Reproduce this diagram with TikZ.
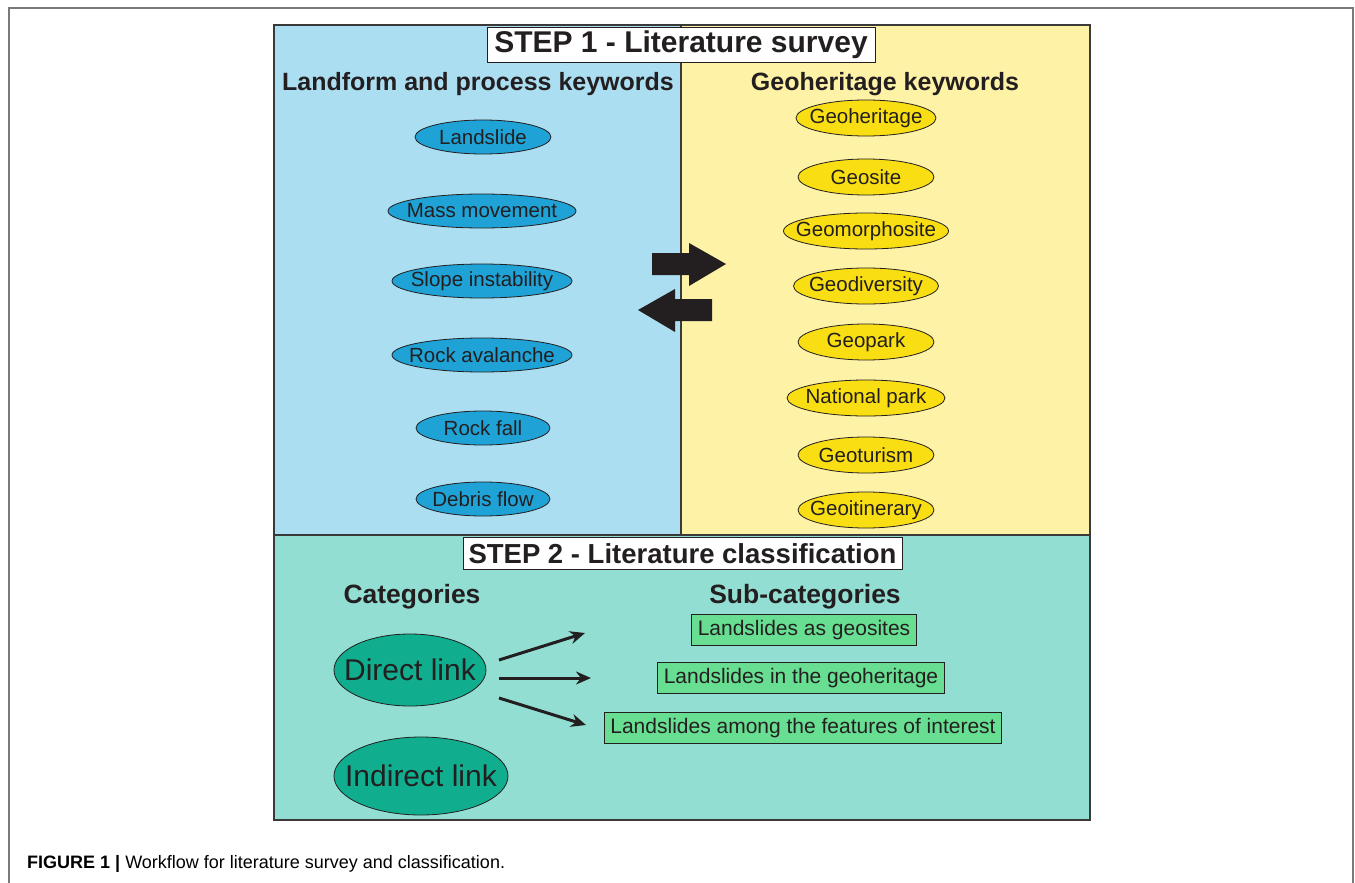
\documentclass[tikz,border=0pt]{standalone}
\usepackage{fontspec}
\setmainfont{Liberation Sans}
\usepackage{xcolor}
\usetikzlibrary{shapes.geometric, arrows.meta, positioning}

\definecolor{inkdark}{HTML}{231F20}
\definecolor{framegray}{HTML}{3A3A3A}
\definecolor{pagegray}{HTML}{7A7A7A}
\definecolor{bluepanel}{HTML}{ABDEF1}
\definecolor{bluekw}{HTML}{1FA2D6}
\definecolor{yellowpanel}{HTML}{FEF2A7}
\definecolor{yellowkw}{HTML}{F8DE13}
\definecolor{tealpanel}{HTML}{93DED3}
\definecolor{tealkw}{HTML}{10AE8E}
\definecolor{greenkw}{HTML}{68DE92}

% texte sans largeur, l'ellipse garde sa taille minimale
\newcommand{\kwtext}[1]{\makebox[0pt]{#1}}

\begin{document}
\begin{tikzpicture}[x=1pt, y=-1pt, auto]
% Styles
    \tikzstyle{panel} = [draw=framegray, line width=1.1pt]
    \tikzstyle{pagerule} = [draw=pagegray, line width=1.3pt]
    \tikzstyle{steptitle} = [rectangle, draw=inkdark, fill=white, line width=0.9pt, inner sep=0pt, text=inkdark, font=\fontsize{28.5}{30}\selectfont\bfseries]
    \tikzstyle{heading} = [text=inkdark, font=\fontsize{25}{27}\selectfont\bfseries]
    \tikzstyle{landform} = [ellipse, draw=inkdark, fill=bluekw, line width=0.8pt, inner sep=0pt, minimum width=134pt, minimum height=34pt, text=inkdark, font=\fontsize{20.5}{22}\selectfont]
    \tikzstyle{geokw} = [ellipse, draw=inkdark, fill=yellowkw, line width=0.8pt, inner sep=0pt, minimum width=136pt, minimum height=36pt, text=inkdark, font=\fontsize{20.5}{22}\selectfont]
    \tikzstyle{linkcat} = [ellipse, draw=inkdark, fill=tealkw, line width=0.8pt, inner sep=0pt, text=inkdark, font=\fontsize{30}{32}\selectfont]
    \tikzstyle{subcat} = [rectangle, draw=inkdark, fill=greenkw, line width=0.9pt, inner xsep=6pt, inner ysep=0pt, minimum height=31pt, text=inkdark, font=\fontsize{21}{23}\selectfont]
    \tikzstyle{bigarrow} = [fill=inkdark]
    \tikzstyle{linkarrow} = [draw=inkdark, line width=3pt, -{Stealth[length=15pt, width=13pt]}]

    \useasboundingbox (0,0) rectangle (1355,883);

    % Cadre de page
    \draw [pagerule] (9,883) -- (9,8) -- (1353,8) -- (1353,883);

    % Panneaux
    \fill [bluepanel] (274,25) rectangle (681,535);
    \fill [yellowpanel] (681,25) rectangle (1090,535);
    \fill [tealpanel] (274,535) rectangle (1090,820);
    \draw [panel] (681,25) -- (681,535);
    \draw [panel] (274,535) -- (1090,535);
    \draw [panel] (274,25) rectangle (1090,820);

    % Etape 1
    \node [steptitle, minimum width=388pt, minimum height=35pt, font=\fontsize{30}{32}\selectfont\bfseries] (step1) at (681,44.5) {STEP 1 - Literature survey};
    \node [heading] (landhead) at (478,84) {Landform and process keywords};
    \node [heading] (geohead) at (885,84) {Geoheritage keywords};

    % Mots-clés forme et processus
    \node [landform, minimum width=136pt] (landslide) at (483,137) {\kwtext{Landslide}};
    \node [landform, minimum width=188pt] (massmov) at (482,211) {\kwtext{Mass movement}};
    \node [landform, minimum width=180pt] (slope) at (482,281) {\kwtext{Slope instability}};
    \node [landform, minimum width=180pt] (rockav) at (482,355) {\kwtext{Rock avalanche}};
    \node [landform] (rockfall) at (483,428) {\kwtext{Rock fall}};
    \node [landform] (debris) at (483,499) {\kwtext{Debris flow}};

    % Mots-clés géopatrimoine
    \node [geokw, minimum width=140pt] (geoher) at (866,118) {\kwtext{Geoheritage}};
    \node [geokw] (geosite) at (866,177) {\kwtext{Geosite}};
    \node [geokw, minimum width=165pt] (geomorph) at (866,231) {\kwtext{Geomorphosite}};
    \node [geokw, minimum width=145pt] (geodiv) at (866,286) {\kwtext{Geodiversity}};
    \node [geokw] (geopark) at (866,342) {\kwtext{Geopark}};
    \node [geokw, minimum width=158pt] (natpark) at (866,398) {\kwtext{National park}};
    \node [geokw] (geotur) at (866,455) {\kwtext{Geoturism}};
    \node [geokw] (geoitin) at (866,510) {\kwtext{Geoitinerary}};

    % Flèches entre les deux listes
    \fill [bigarrow] (652,253) -- (689,253) -- (689,243) -- (726,264) -- (689,286) -- (689,275) -- (652,275) -- cycle;
    \fill [bigarrow] (712,299) -- (675,299) -- (675,289) -- (638,310) -- (675,332) -- (675,321) -- (712,321) -- cycle;

    % Etape 2
    \node [steptitle, minimum width=439pt, minimum height=32pt, font=\fontsize{27.5}{29}\selectfont\bfseries] (step2) at (682.5,553.5) {STEP 2 - Literature classification};
    \node [heading, font=\fontsize{26.5}{28}\selectfont\bfseries] (cathead) at (412,597) {Categories};
    \node [heading, font=\fontsize{26.5}{28}\selectfont\bfseries] (subhead) at (805,597) {Sub-categories};

    \node [linkcat, minimum width=152pt, minimum height=72pt] (direct) at (410,670) {\kwtext{Direct link}};
    \node [linkcat, minimum width=174pt, minimum height=78pt] (indirect) at (421,776) {\kwtext{Indirect link}};

    \node [subcat] (asgeo) at (804,630) {Landslides as geosites};
    \node [subcat] (ingeo) at (801,678) {Landslides in the geoheritage};
    \node [subcat] (among) at (803,728) {Landslides among the features of interest};

    % Connexions
    \coordinate (fromtop) at (499,660);
    \coordinate (frommid) at (499,678);
    \coordinate (frombot) at (499,698);
    \coordinate (totop) at (585,633);
    \coordinate (tomid) at (591,678);
    \coordinate (tobot) at (586,725);
    \path [linkarrow] (fromtop) -- (totop);
    \path [linkarrow] (frommid) -- (tomid);
    \path [linkarrow] (frombot) -- (tobot);

    % Légende
    \node [anchor=base west, inner sep=0pt, font=\fontsize{18}{20}\selectfont] (caption) at (27,868) {\textbf{FIGURE 1 |} Workflow for literature survey and classification.};
\end{tikzpicture}
\end{document}
